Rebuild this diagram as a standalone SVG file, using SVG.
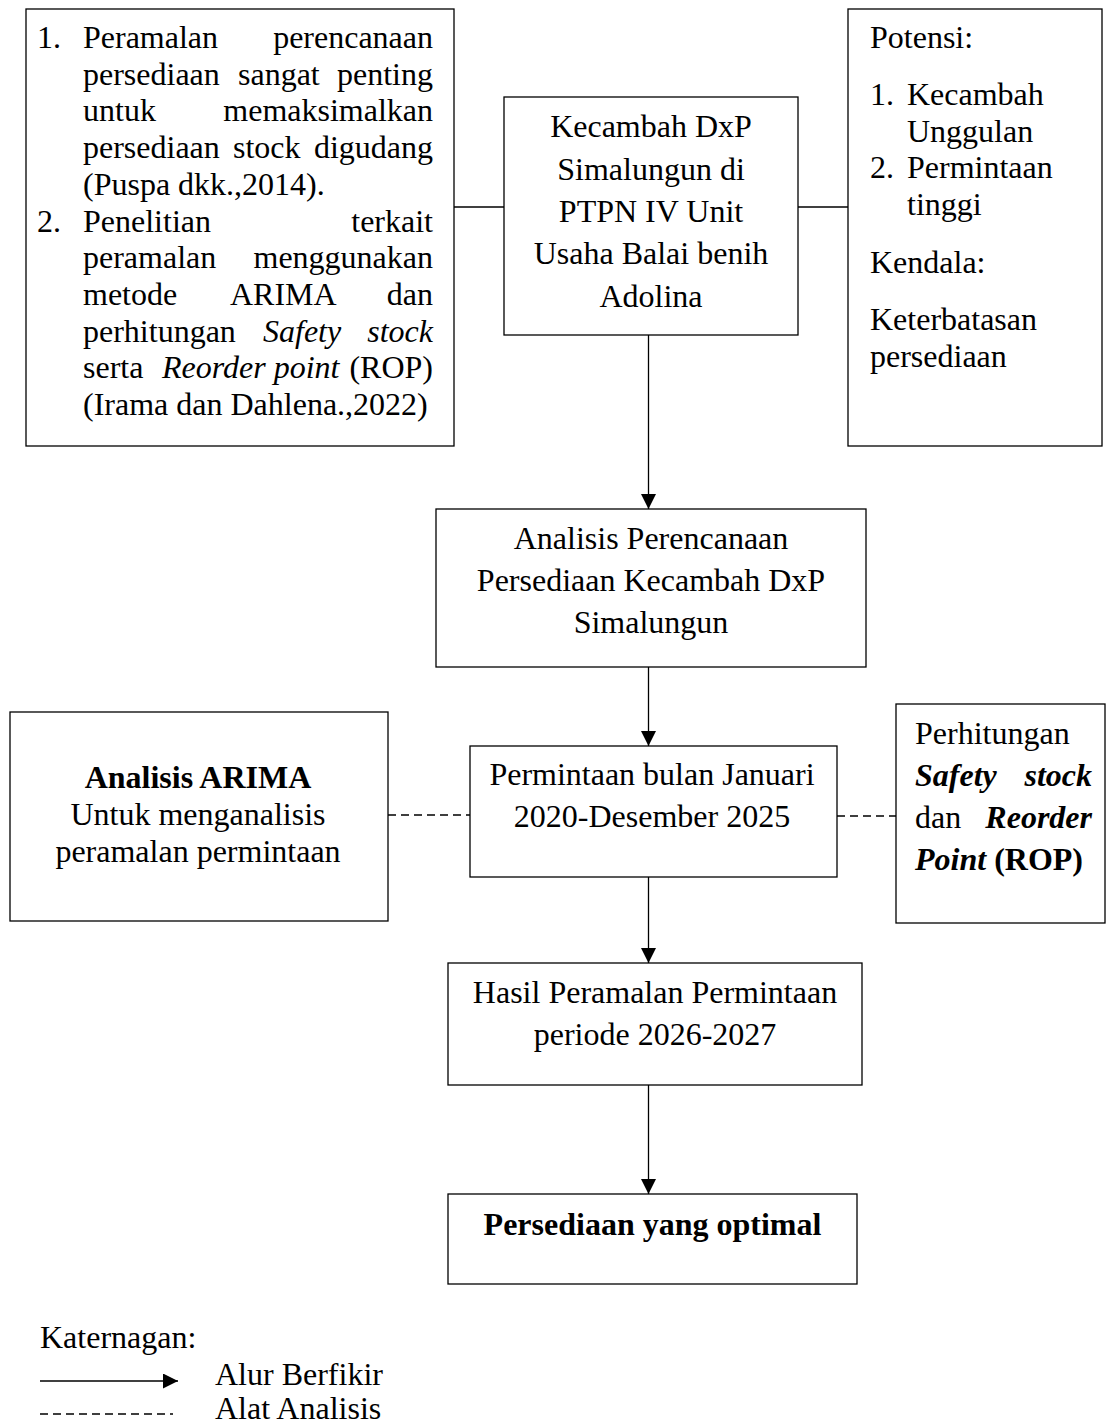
<svg xmlns="http://www.w3.org/2000/svg" width="1107" height="1424" viewBox="0 0 1107 1424">
<style>
.t{font-family:"Liberation Serif","Times New Roman",serif;font-size:32px;fill:#000}
.m{text-anchor:middle}
.e{text-anchor:end}
.b{font-weight:bold}
.i{font-style:italic}
.box{fill:#fff;stroke:#000;stroke-width:1.3}
.c{stroke:#000;stroke-width:1.3;fill:none}
.d{stroke-dasharray:8 5}
</style>
<defs>
<marker id="arr" markerUnits="userSpaceOnUse" markerWidth="16" markerHeight="16" refX="15" refY="7.5" orient="auto">
<path d="M0,0 L15,7.5 L0,15 z" fill="#000"/>
</marker>
</defs>
<rect x="0" y="0" width="1107" height="1424" fill="#fff"/>

<g id="connectors">
<line class="c" x1="454" y1="207" x2="504" y2="207"/>
<line class="c" x1="798" y1="207" x2="848" y2="207"/>
<line class="c" x1="648.5" y1="335" x2="648.5" y2="509" marker-end="url(#arr)"/>
<line class="c" x1="648.5" y1="667" x2="648.5" y2="746" marker-end="url(#arr)"/>
<line class="c" x1="648.5" y1="877" x2="648.5" y2="963" marker-end="url(#arr)"/>
<line class="c" x1="648.5" y1="1085" x2="648.5" y2="1194" marker-end="url(#arr)"/>
<line class="c d" x1="388" y1="815" x2="470" y2="815"/>
<line class="c d" x1="837" y1="816" x2="896" y2="816"/>
</g>

<g id="node-literature">
<rect class="box" x="26" y="9" width="428" height="437"/>
<text class="t" x="37" y="48">1.</text>
<text class="t" x="83" y="48">Peramalan</text>
<text class="t e" x="433" y="48">perencanaan</text>
<text class="t" x="83" y="84.7">persediaan</text>
<text class="t" x="238" y="84.7">sangat</text>
<text class="t e" x="433" y="84.7">penting</text>
<text class="t" x="83" y="121.4">untuk</text>
<text class="t e" x="433" y="121.4">memaksimalkan</text>
<text class="t" x="83" y="158.1">persediaan</text>
<text class="t" x="233" y="158.1">stock</text>
<text class="t e" x="433" y="158.1">digudang</text>
<text class="t" x="83" y="194.8">(Puspa dkk.,2014).</text>
<text class="t" x="37" y="231.5">2.</text>
<text class="t" x="83" y="231.5">Penelitian</text>
<text class="t e" x="433" y="231.5">terkait</text>
<text class="t" x="83" y="268.2">peramalan</text>
<text class="t e" x="433" y="268.2">menggunakan</text>
<text class="t" x="83" y="304.9">metode</text>
<text class="t" x="230" y="304.9">ARIMA</text>
<text class="t e" x="433" y="304.9">dan</text>
<text class="t" x="83" y="341.6">perhitungan</text>
<text class="t i" x="263" y="341.6">Safety</text>
<text class="t i e" x="433" y="341.6">stock</text>
<text class="t" x="83" y="378.3">serta</text>
<text class="t i" x="162" y="378.3">Reorder point</text>
<text class="t e" x="433" y="378.3">(ROP)</text>
<text class="t" x="83" y="415">(Irama dan Dahlena.,2022)</text>
</g>

<g id="node-object">
<rect class="box" x="504" y="97" width="294" height="238"/>
<text class="t m" x="651" y="137.3">Kecambah DxP</text>
<text class="t m" x="651" y="179.6">Simalungun di</text>
<text class="t m" x="651" y="221.9">PTPN IV Unit</text>
<text class="t m" x="651" y="264.2">Usaha Balai benih</text>
<text class="t m" x="651" y="306.5">Adolina</text>
</g>

<g id="node-potential">
<rect class="box" x="848" y="9" width="254" height="437"/>
<text class="t" x="870" y="48">Potensi:</text>
<text class="t" x="870" y="105">1.</text>
<text class="t" x="907" y="105">Kecambah</text>
<text class="t" x="907" y="141.7">Unggulan</text>
<text class="t" x="870" y="178.4">2.</text>
<text class="t" x="907" y="178.4">Permintaan</text>
<text class="t" x="907" y="215.1">tinggi</text>
<text class="t" x="870" y="273">Kendala:</text>
<text class="t" x="870" y="330">Keterbatasan</text>
<text class="t" x="870" y="366.7">persediaan</text>
</g>

<g id="node-analysis">
<rect class="box" x="436" y="509" width="430" height="158"/>
<text class="t m" x="651" y="549">Analisis Perencanaan</text>
<text class="t m" x="651" y="591">Persediaan Kecambah DxP</text>
<text class="t m" x="651" y="633">Simalungun</text>
</g>

<g id="node-arima">
<rect class="box" x="10" y="712" width="378" height="209"/>
<text class="t m b" x="198" y="788">Analisis ARIMA</text>
<text class="t m" x="198" y="825">Untuk menganalisis</text>
<text class="t m" x="198" y="861.7">peramalan permintaan</text>
</g>

<g id="node-demand">
<rect class="box" x="470" y="746" width="367" height="131"/>
<text class="t m" x="652" y="785">Permintaan bulan Januari</text>
<text class="t m" x="652" y="827">2020-Desember 2025</text>
</g>

<g id="node-safety">
<rect class="box" x="896" y="704" width="209" height="219"/>
<text class="t" x="915" y="743.5">Perhitungan</text>
<text class="t b i" x="915" y="785.5">Safety</text>
<text class="t b i e" x="1092" y="785.5">stock</text>
<text class="t" x="915" y="827.5">dan</text>
<text class="t b i e" x="1092" y="827.5">Reorder</text>
<text class="t b" x="915" y="869.5"><tspan class="i">Point</tspan> (ROP)</text>
</g>

<g id="node-forecast">
<rect class="box" x="448" y="963" width="414" height="122"/>
<text class="t m" x="655" y="1002.7">Hasil Peramalan Permintaan</text>
<text class="t m" x="655" y="1044.7">periode 2026-2027</text>
</g>

<g id="node-optimal">
<rect class="box" x="448" y="1194" width="409" height="90"/>
<text class="t m b" x="652.5" y="1235">Persediaan yang optimal</text>
</g>

<g id="legend">
<text class="t" x="40" y="1348">Katernagan:</text>
<line class="c" x1="40" y1="1381" x2="178" y2="1381" marker-end="url(#arr)"/>
<text class="t" x="215" y="1385">Alur Berfikir</text>
<line class="c d" x1="40" y1="1414" x2="173" y2="1414"/>
<text class="t" x="215" y="1419">Alat Analisis</text>
</g>
</svg>
